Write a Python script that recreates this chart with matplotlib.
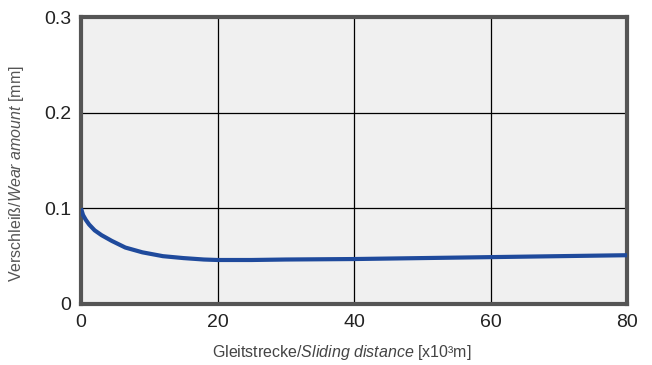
import matplotlib.pyplot as plt

# sliding distance [x10^3 m] and wear amount [mm]
distance = [0, 0.3, 0.7, 1.2, 2, 3, 4.5, 6.5, 9, 12, 15, 18, 20, 25, 30, 40, 50, 60, 70, 80]
wear = [0.100, 0.093, 0.088, 0.083, 0.077, 0.072, 0.066, 0.059, 0.054, 0.050, 0.048, 0.0465, 0.046,
        0.046, 0.0465, 0.047, 0.048, 0.049, 0.050, 0.051]

xticks = [0, 20, 40, 60, 80]
yticks = [0, 0.1, 0.2, 0.3]
ytick_labels = ['0', '0.1', '0.2', '0.3']

plt.rcParams['font.family'] = ['Liberation Sans', 'DejaVu Sans']
plt.rcParams['mathtext.fontset'] = 'custom'
plt.rcParams['mathtext.rm'] = 'Liberation Sans'
plt.rcParams['mathtext.it'] = 'Liberation Sans:italic'

fig = plt.figure(figsize=(6.52, 3.65), dpi=100)
ax = fig.add_axes([81 / 652, 1 - 304 / 365, 546 / 652, 287 / 365])
ax.set_facecolor('#f0f0f0')

ax.plot(distance, wear, color='#1f4a9c', linewidth=3, solid_capstyle='butt', zorder=3)

ax.set_xlim(0, 80)
ax.set_ylim(0, 0.3)
ax.set_xticks(xticks)
ax.set_yticks(yticks)
ax.set_yticklabels(ytick_labels)
ax.grid(True, color='black', linewidth=0.9)
ax.tick_params(length=0, labelsize=14, colors='#222222', pad=7)
for s in ax.spines.values():
    s.set_color('#555555')
    s.set_linewidth(3)

ax.set_xlabel('Gleitstrecke/$\\it{Sliding\\ distance}$ [x10³m]', fontsize=11.5, color='#444444')
ax.set_ylabel('Verschleiß/$\\it{Wear\\ amount}$ [mm]', fontsize=11.5, color='#555555')
ax.xaxis.set_label_coords(0.478, -0.135)
ax.yaxis.set_label_coords(-0.1, 0.455)

fig.savefig('out.png', dpi=100)
